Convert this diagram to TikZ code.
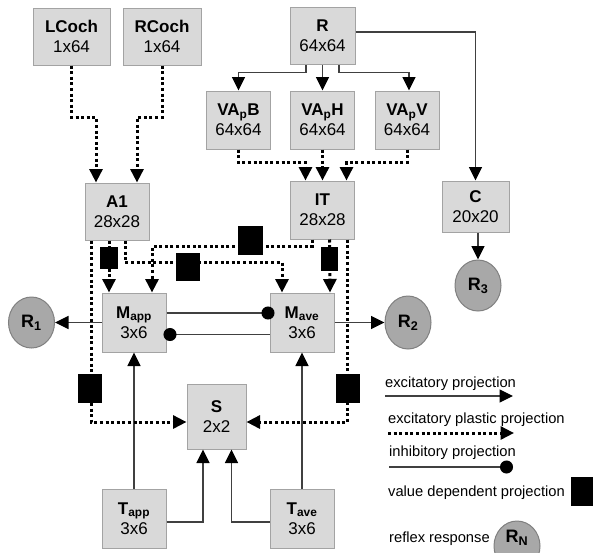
\documentclass[tikz,border=0pt]{standalone}
\usepackage{fontspec}
\setmainfont{Liberation Sans}
\usetikzlibrary{arrows.meta, shapes.geometric, positioning}

\definecolor{boxfill}{HTML}{D9D9D9}
\definecolor{boxline}{HTML}{A3A3A3}
\definecolor{reflexfill}{HTML}{A8A8A8}
\definecolor{reflexline}{HTML}{808080}
\definecolor{wire}{HTML}{404040}

\begin{document}
\begin{tikzpicture}[x=1pt, y=-1pt,
		box/.style={
			rectangle,
			draw=boxline,
			fill=boxfill,
			line width=1pt,
			minimum width=64pt,
			minimum height=58pt,
			inner sep=0pt,
			align=center,
			font=\fontsize{17}{20}\selectfont
		},
		reflex/.style={
			ellipse,
			draw=reflexline,
			fill=reflexfill,
			line width=1pt,
			minimum width=46pt,
			minimum height=51pt,
			inner sep=0pt,
			font=\fontsize{18}{20}\selectfont\bfseries
		},
		vdep/.style={rectangle, fill=black, minimum width=24pt, minimum height=29pt, inner sep=0pt},
		legend/.style={anchor=base west, inner sep=0pt, font=\fontsize{14.7}{17}\selectfont},
		excite/.style={-{Triangle[width=13pt,length=13.5pt,color=black]}, line width=1.2pt, wire},
		plastic/.style={-{Triangle[width=13pt,length=13.5pt]}, line width=3pt, dash pattern=on 3pt off 2.6pt, black},
		inhib/.style={-{Circle[length=13pt,color=black]}, line width=1.2pt, wire}]
	\useasboundingbox (0,0) rectangle (593,552);
	
	% boxes
	\node [box, minimum width=77pt, minimum height=57pt] (lcoch) at (71.5,36.5) {\textbf{LCoch}\\1x64};
	\node [box, minimum width=78pt, minimum height=57pt] (rcoch) at (162,36.5) {\textbf{RCoch}\\1x64};
	\node [box, minimum width=65pt, minimum height=57pt] (r) at (322.5,36) {\textbf{R}\\64x64};
	\node [box, below of=r, node distance=84pt] (vaph) {\textbf{VA\textsubscript{p}H}\\64x64};
	\node [box, left of=vaph, node distance=84pt] (vapb) {\textbf{VA\textsubscript{p}B}\\64x64};
	\node [box, right of=vaph, node distance=84.5pt] (vapv) {\textbf{VA\textsubscript{p}V}\\64x64};
	\node [box, below of=vaph, node distance=90pt] (it) {\textbf{IT}\\28x28};
	\node [box, minimum height=57pt] (a1) at (117,211.5) {\textbf{A1}\\28x28};
	\node [box, minimum width=67pt, minimum height=51pt] (c) at (475.5,206.5) {\textbf{C}\\20x20};
	\node [box, minimum height=59pt] (mave) at (302,322.5) {\textbf{M\textsubscript{ave}}\\3x6};
	\node [box, minimum height=59pt, left of=mave, node distance=168pt] (mapp) {\textbf{M\textsubscript{app}}\\3x6};
	\node [box, minimum width=59pt, minimum height=65pt] (s) at (216.5,416.5) {\textbf{S}\\2x2};
	\node [box, minimum height=59pt, below of=mapp, node distance=196pt] (tapp) {\textbf{T\textsubscript{app}}\\3x6};
	\node [box, minimum height=59pt, below of=mave, node distance=196pt] (tave) {\textbf{T\textsubscript{ave}}\\3x6};
	
	% reflex responses
	\node [reflex, left of=mapp, node distance=102.5pt] (r1) {R\textsubscript{1}};
	\node [reflex, right of=mave, node distance=106pt, minimum height=53pt] (r2) {R\textsubscript{2}};
	\node [reflex] (r3) at (478,285.5) {R\textsubscript{3}};
	
	% excitatory
	\draw [excite] ([xshift=-16.5pt]r.south) -- ++(0,7.5) -| (vapb.north);
	\draw [excite] (r) -- (vaph);
	\draw [excite] ([xshift=16.5pt]r.south) -- ++(0,7.5) -| ([xshift=2pt]vapv.north);
	\draw [excite] ([yshift=4pt]r.east) -| (c.north);
	\draw [excite] (r3.north |- c.south) -- (r3.north);
	\draw [excite] (mapp.west) -- (r1.east);
	\draw [excite] (mave.east) -- (r2.west);
	\draw [excite] (tapp.north) -- (mapp.south);
	\draw [excite] (tave.north) -- (mave.south);
	\draw [excite] ([yshift=-3.5pt]tapp.east) -| ([xshift=-13.5pt]s.south);
	\draw [excite] ([yshift=-3.5pt]tave.west) -| ([xshift=15pt]s.south);
	
	% inhibitory
	\draw [inhib] ([yshift=9.5pt]mapp.east) -- ([xshift=5pt,yshift=9.5pt]mave.west);
	\draw [inhib] ([yshift=-12pt]mave.west) -- ([xshift=-3pt,yshift=-12pt]mapp.east);
	
	% excitatory plastic
	\draw [plastic] (lcoch.south) -- ++(0,52) -| ([xshift=-21pt]a1.north);
	\draw [plastic] (rcoch.south) -- ++(0,52) -| ([xshift=20pt]a1.north);
	\draw [plastic] (vapb.south) -- ++(0,13) -| ([xshift=-17pt]it.north);
	\draw [plastic] (vaph) -- (it);
	\draw [plastic] (vapv.south) -- ++(0,13) -| ([xshift=24pt]it.north);
	\draw [plastic] ([xshift=-8pt]a1.south) -- ([xshift=-25pt]mapp.north);
	\draw [plastic] ([xshift=8pt]a1.south) -- ++(0,22) -| ([xshift=-20pt]mave.north);
	\draw [plastic] ([xshift=-10.5pt]it.south) -- ++(0,7) -| ([xshift=18pt]mapp.north);
	\draw [plastic] ([xshift=7pt]it.south) -- ([xshift=28pt]mave.north);
	\draw [plastic] ([xshift=-26pt]a1.south) |- ([yshift=-5.5pt]s.west);
	\draw [plastic] ([xshift=25pt]it.south) |- ([yshift=-5.5pt]s.east);
	
	% value dependent
	\node [vdep, minimum width=18pt, minimum height=22pt] (va) at (109,258) {};
	\node [vdep, minimum height=28pt] (vb) at (188,267) {};
	\node [vdep, minimum width=25pt] (vc) at (250,240.5) {};
	\node [vdep, minimum width=17pt, minimum height=24pt] (vd) at (329.5,259) {};
	\node [vdep] (ve) at (90,388.5) {};
	\node [vdep] (vf) at (348,388.5) {};
	
	% legend
	\node [legend] (lexc) at (385,387) {excitatory projection};
	\coordinate (lexca) at (385,396);
	\coordinate (lexcb) at (513,396);
	\draw [excite] (lexca) -- (lexcb);
	\node [legend] (lpla) at (388,423) {excitatory plastic projection};
	\coordinate (lplaa) at (388,433);
	\coordinate (lplab) at (514,433);
	\draw [plastic] (lplaa) -- (lplab);
	\node [legend] (linh) at (389,456) {inhibitory projection};
	\coordinate (linha) at (389,467);
	\coordinate (linhb) at (513,467);
	\draw [inhib] (linha) -- (linhb);
	\node [legend] (lval) at (388,496) {value dependent projection};
	\node [vdep] (lvdep) at (583,491.5) {};
	\node [legend] (lref) at (389,542) {reflex response};
	\node [reflex, minimum height=50pt, label={[font=\fontsize{18}{20}\selectfont\bfseries, yshift=8pt]center:R\textsubscript{N}}] (rn) at (517,546) {};
\end{tikzpicture}
\end{document}
